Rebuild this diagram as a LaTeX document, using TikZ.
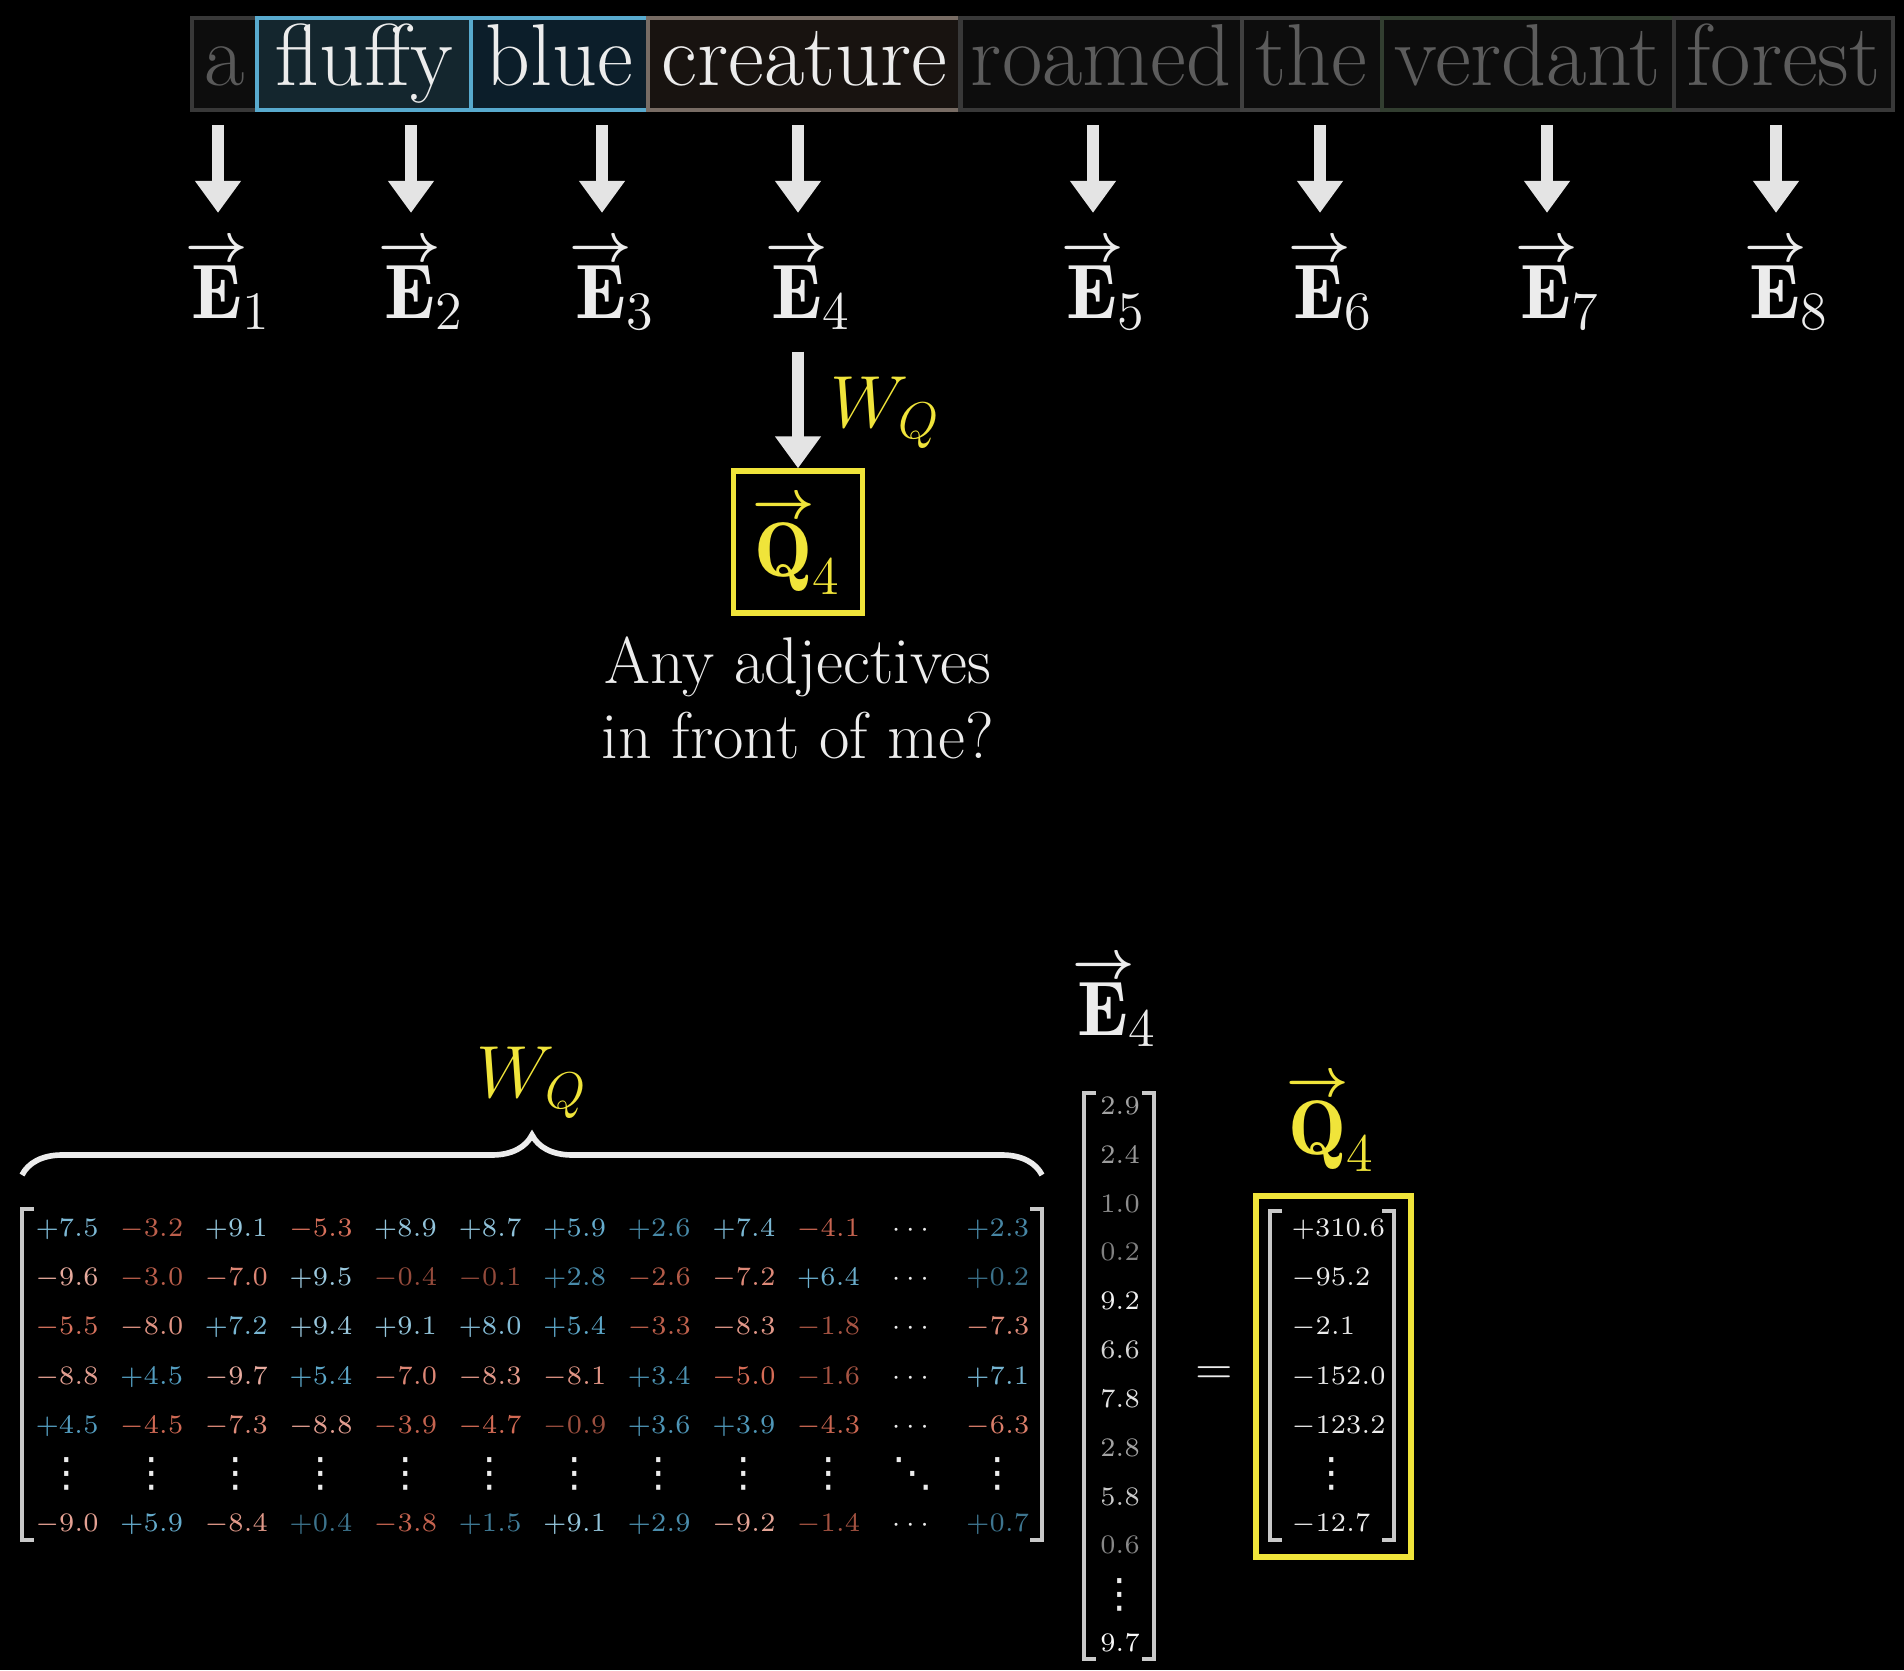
\RequirePackage{fix-cm}
\documentclass[tikz,border=0pt]{standalone}
\usepackage{amsmath,mathtools}
\usepackage{fontspec}
\usepackage{xcolor}
\usepackage{tikz}
\usetikzlibrary{arrows.meta,positioning,decorations.pathreplacing,calc}

\newfontfamily\dotsfont{DejaVu Sans}

\definecolor{txtw}{RGB}{236,236,236}
\definecolor{arrc}{RGB}{228,228,228}
\definecolor{ylw}{RGB}{240,228,58}
\definecolor{posc}{RGB}{86,164,200}
\definecolor{negc}{RGB}{214,108,86}
\definecolor{hotb}{RGB}{88,170,206}
\definecolor{dimt}{RGB}{92,92,92}

\newcommand{\wordfont}{\fontsize{25}{30}\selectfont}
\newcommand{\vecfont}{\fontsize{22}{26}\selectfont}
\newcommand{\wqfont}{\fontsize{21}{25}\selectfont}
\newcommand{\askfont}{\fontsize{18.8}{21.3}\selectfont}
\newcommand{\numfont}{\fontsize{7.6}{9}\selectfont}

%% bold arrow sitting close on top of a letter, taking no width
\newcommand{\toparr}{\smash[b]{\raisebox{-3pt}{$\scriptstyle\mathclap{\boldsymbol{\rightarrow}}$}}}
\newcommand{\arvec}[2]{{\overset{\toparr}{\mathbf{#1}}}_{\mathrlap{#2}}}
%% single-glyph dots for the matrices
\newcommand{\tallvdots}{{\dotsfont\fontsize{11.5}{12}\selectfont ⋮}}
\newcommand{\lowddots}{{\dotsfont\fontsize{11.5}{12}\selectfont ⋱}}

%% one signed entry of W_Q, shaded by sign and size
\newcommand{\wqcell}[3]{%
  \pgfmathsetmacro\wqmag{abs(0#3)}%
  \ifdim\wqmag pt<5pt
    \pgfmathtruncatemacro\wqpct{68+6.4*\wqmag}\def\wqmix{black}%
  \else
    \pgfmathtruncatemacro\wqpct{100-9*(\wqmag-5)}\def\wqmix{white}%
  \fi
  \ifdim #3pt<0pt \colorlet{cellc}{negc!\wqpct!\wqmix}\else\colorlet{cellc}{posc!\wqpct!\wqmix}\fi
  \node[numc, text=cellc] (m-#1-#2) at ({67+84.6*(#2-1)},{1229+49.2*(#1-1)}) {$#3$};%
}

\begin{document}
\begin{tikzpicture}[
  x=0.01cm, y=-0.01cm,
  every node/.style={text=txtw},
  wordbox/.style={draw, line width=1.2pt, inner sep=0pt, outer sep=0pt,
    minimum height=0.92cm, text height=0.67cm, text depth=0.25cm, font=\wordfont},
  dimw/.style={wordbox, draw=black!78, fill=black!95, text=dimt},
  evec/.style={font=\vecfont, inner sep=0pt, outer sep=0pt, anchor=base},
  bigarr/.style={draw=arrc, line width=0.12cm, -{Triangle[length=0.32cm, width=0.44cm]}},
  numc/.style={font=\numfont, inner sep=0pt, anchor=mid},
  dotc/.style={inner sep=0pt, anchor=center},
  brk/.style={draw=txtw!85!black, line width=1pt},
  wqbrace/.style={draw=txtw, line width=1.6pt, decorate, decoration={brace, amplitude=0.4cm}},
]

%% ── Background / frame ───────────────────────────────────────────────────
\fill[black] (0,0) rectangle (1904,1670);
\useasboundingbox (0,0) rectangle (1904,1670);

%% ── Sentence tokens ──────────────────────────────────────────────────────
\node[dimw, minimum width=0.65cm, anchor=north west, text=black!65] (w1) at (192,18) {a};
\node[wordbox, draw=hotb, fill={rgb,255:red,20;green,38;blue,46}, minimum width=2.14cm,
  right=0pt of w1] (w2) {fluffy};
\node[wordbox, draw=hotb, fill={rgb,255:red,12;green,30;blue,42}, minimum width=1.77cm,
  right=0pt of w2] (w3) {blue};
\node[wordbox, draw={rgb,255:red,120;green,108;blue,100}, fill={rgb,255:red,24;green,19;blue,16},
  minimum width=3.12cm, right=0pt of w3] (w4) {creature};
\node[dimw, minimum width=2.81cm, right=0pt of w4] (w5) {roamed};
\node[dimw, minimum width=1.40cm, right=0pt of w5, draw=black!75] (w6) {the};
\node[dimw, minimum width=2.92cm, right=0pt of w6,
  draw={rgb,255:red,50;green,62;blue,48}] (w7) {verdant};
\node[dimw, minimum width=2.19cm, right=0pt of w7] (w8) {forest};

%% ── Embeddings, one arrow per token ──────────────────────────────────────
\foreach \i/\x in {1/218,2/411,3/602,4/798,5/1093,6/1320,7/1547,8/1776} {
  \node[evec] (e\i) at (\x,318) {$\arvec{E}{\i}$};
  \coordinate (t\i) at (\x,125);
  \draw[bigarr, shorten >=0.2cm] (t\i) -- (e\i);
}

%% ── Query for "creature" ─────────────────────────────────────────────────
\node[draw=ylw, line width=1.5pt, minimum width=1.29cm, minimum height=1.42cm,
  inner sep=0pt, text=ylw, font=\vecfont] (q4) at (798,542)
  {$\overset{\toparr}{\mathbf{Q}}_4$};
\draw[bigarr, shorten <=0.22cm] (e4) --
  node[pos=0.6, right=0.26cm, inner sep=0pt, text=ylw, font=\wqfont] (wqa) {$W_Q$} (q4);
\node[below=0.2cm of q4, align=center, font=\askfont, inner sep=0pt] (ask)
  {Any adjectives\\in front of me?};

%% ── W_Q matrix ───────────────────────────────────────────────────────────
\node[anchor=base, text=ylw, font=\wqfont] (wqlab) at (532,1097) {$W_Q$};
\coordinate (bl) at (22,1175);
\coordinate (br) at (1042,1175);
\draw[wqbrace] (bl) -- (br);

\draw[brk] (34,1209) -- (22,1209) -- (22,1540) -- (34,1540);
\draw[brk] (1030,1209) -- (1042,1209) -- (1042,1540) -- (1030,1540);

\foreach \r/\vals/\last in {
  1/{+7.5,-3.2,+9.1,-5.3,+8.9,+8.7,+5.9,+2.6,+7.4,-4.1}/+2.3,
  2/{-9.6,-3.0,-7.0,+9.5,-0.4,-0.1,+2.8,-2.6,-7.2,+6.4}/+0.2,
  3/{-5.5,-8.0,+7.2,+9.4,+9.1,+8.0,+5.4,-3.3,-8.3,-1.8}/-7.3,
  4/{-8.8,+4.5,-9.7,+5.4,-7.0,-8.3,-8.1,+3.4,-5.0,-1.6}/+7.1,
  5/{+4.5,-4.5,-7.3,-8.8,-3.9,-4.7,-0.9,+3.6,+3.9,-4.3}/-6.3,
  7/{-9.0,+5.9,-8.4,+0.4,-3.8,+1.5,+9.1,+2.9,-9.2,-1.4}/+0.7} {
  \foreach \v [count=\c] in \vals { \wqcell{\r}{\c}{\v} }
  \wqcell{\r}{12}{\last}
  \node[numc] (m-\r-11) at (913,{1229+49.2*(\r-1)}) {$\cdots$};
}
\foreach \c in {1,...,10,12} {
  \node[dotc] (m-6-\c) at ({67+84.6*(\c-1)},1474) {\tallvdots};
}
\node[dotc] (m-6-11) at (913,1474) {\lowddots};

%% ── E_4 as a column ──────────────────────────────────────────────────────
\node[evec] (e4b) at (1104,1035) {$\arvec{E}{4}$};
\draw[brk] (1096,1093) -- (1084,1093) -- (1084,1659) -- (1096,1659);
\draw[brk] (1142,1093) -- (1154,1093) -- (1154,1659) -- (1142,1659);
\foreach \v [count=\i] in {2.9,2.4,1.0,0.2,9.2,6.6,7.8,2.8,5.8,0.6} {
  \pgfmathtruncatemacro\g{50+5*\v}
  \node[numc, text=white!\g!black] (ev-\i) at (1120,{1107+48.8*(\i-1)}) {$\v$};
}
\node[dotc] (ev-11) at (1120,1595) {\tallvdots};
\node[numc, text=white!98!black] (ev-12) at (1120,1644) {$9.7$};

\node[font=\fontsize{14}{16}\selectfont] (eq) at (1214,1376) {$=$};

%% ── Resulting query column ───────────────────────────────────────────────
\node[evec, text=ylw] (q4b) at (1318,1154) {$\arvec{Q}{4}$};
\draw[draw=ylw, line width=1.5pt] (1256,1196) rectangle (1411,1557);
\draw[brk] (1282,1211) -- (1270,1211) -- (1270,1540) -- (1282,1540);
\draw[brk] (1382,1211) -- (1394,1211) -- (1394,1540) -- (1382,1540);
\foreach \v [count=\i] in {+310.6,-95.2,-2.1,-152.0,-123.2} {
  \node[numc, anchor=mid west] (qv-\i) at (1291,{1229+49.2*(\i-1)}) {$\v$};
}
\node[dotc] (qv-6) at (1332,1474) {\tallvdots};
\node[numc, anchor=mid west] (qv-7) at (1291,1524) {$-12.7$};

\end{tikzpicture}
\end{document}
